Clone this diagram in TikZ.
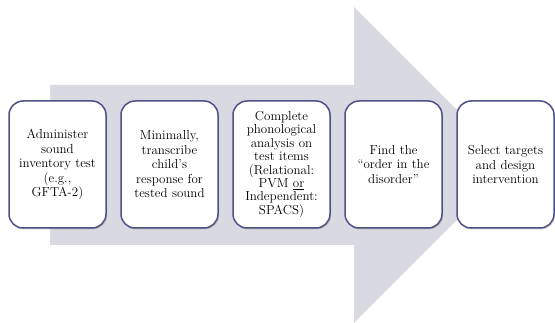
\documentclass[tikz,border=0pt]{standalone}
\usetikzlibrary{positioning,shadows}
\definecolor{arrowgray}{HTML}{D9DAE1}
\definecolor{boxline}{HTML}{4E5286}

\begin{document}
\begin{tikzpicture}[x=1pt,y=1pt,
	stepbox/.style={draw=boxline, line width=1.5pt, fill=white, rounded corners=14pt,
		minimum width=97pt, minimum height=127pt, text width=93pt, align=center,
		inner sep=2pt, font=\fontsize{13}{14.5}\selectfont,
		drop shadow={opacity=0.35, shadow xshift=1pt, shadow yshift=-1.5pt}},
	node distance=13.5pt]
	\useasboundingbox (0,0) rectangle (555,323);

	% big arrow behind the steps
	\fill[arrowgray] (50,78) -- (50,238) -- (354,238) -- (354,316) -- (512,158)
		-- (354,0) -- (354,78) -- cycle;

	\node[stepbox] (admin) at (57.5,158.5) {Administer\\ sound\\ inventory test\\ (e.g.,\\ GFTA-2)};
	\node[stepbox, right=of admin] (transcribe) {Minimally,\\ transcribe\\ child's\\ response for\\ tested sound};
	\node[stepbox, right=of transcribe, font=\fontsize{13}{13.4}\selectfont] (analysis) {Complete\\ phonological\\ analysis on\\ test items\\ (Relational:\\ PVM \underline{or}\\ Independent:\\ SPACS)};
	\node[stepbox, right=of analysis] (order) {Find the\\ ``order in the\\ disorder''};
	\node[stepbox, right=of order] (select) {Select targets\\ and design\\ intervention};
\end{tikzpicture}
\end{document}
